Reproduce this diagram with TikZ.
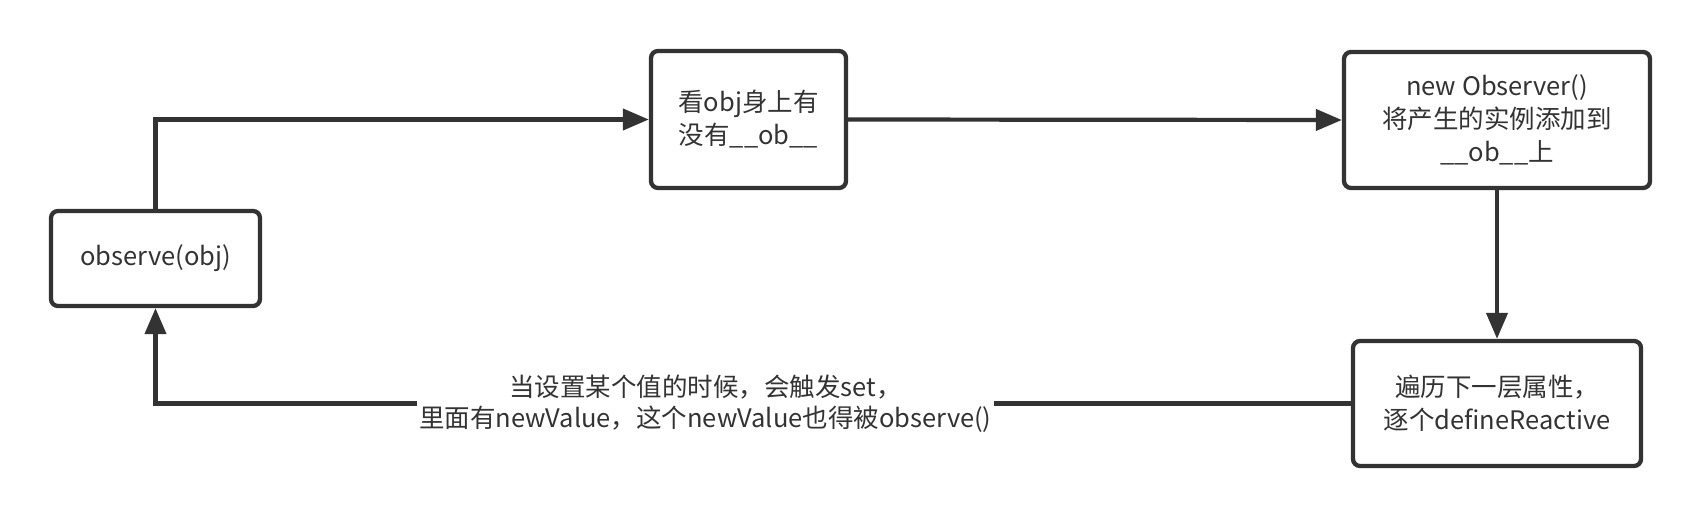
\documentclass[tikz,border=0pt]{standalone}
\usepackage{fontspec}
\setmainfont{Noto Sans CJK SC}
\usetikzlibrary{arrows.meta}
\definecolor{ink}{HTML}{333333}
\begin{document}
\begin{tikzpicture}[x=1pt,y=-1pt,
  box/.style={draw=ink, line width=4.3pt, rounded corners=7pt, fill=white, text=ink,
    align=center, inner sep=0pt, font=\fontsize{25.5}{33}\selectfont},
  conn/.style={draw=ink, line width=4.2pt, -{Triangle[length=26pt,width=21pt]}},
  lbl/.style={fill=white, text=ink, align=center, inner sep=2pt, font=\fontsize{25.5}{31}\selectfont}]
\useasboundingbox[fill=white] (0,0) rectangle (1702,518);
\node[box, minimum width=209pt, minimum height=95pt] (obs) at (155.5,258.5) {observe(obj)};
\node[box, minimum width=195pt, minimum height=137pt] (chk) at (748.5,119.5) {看obj身上有\\没有\_\_ob\_\_};
\node[box, minimum width=306pt, minimum height=136pt] (new) at (1497,120) {new Observer()\\将产生的实例添加到\\\_\_ob\_\_上};
\node[box, minimum width=288pt, minimum height=125pt] (walk) at (1497,403.5) {遍历下一层属性，\\逐个defineReactive};
\draw[conn] (obs.north) |- (chk.west);
\draw[conn] (chk.east) -- (new.west);
\draw[conn] (new.south) -- (walk.north);
\draw[conn] (walk.west) -| node[lbl, pos=0.27] {当设置某个值的时候，会触发set，\\里面有newValue，这个newValue也得被observe()} (obs.south);
\end{tikzpicture}
\end{document}
